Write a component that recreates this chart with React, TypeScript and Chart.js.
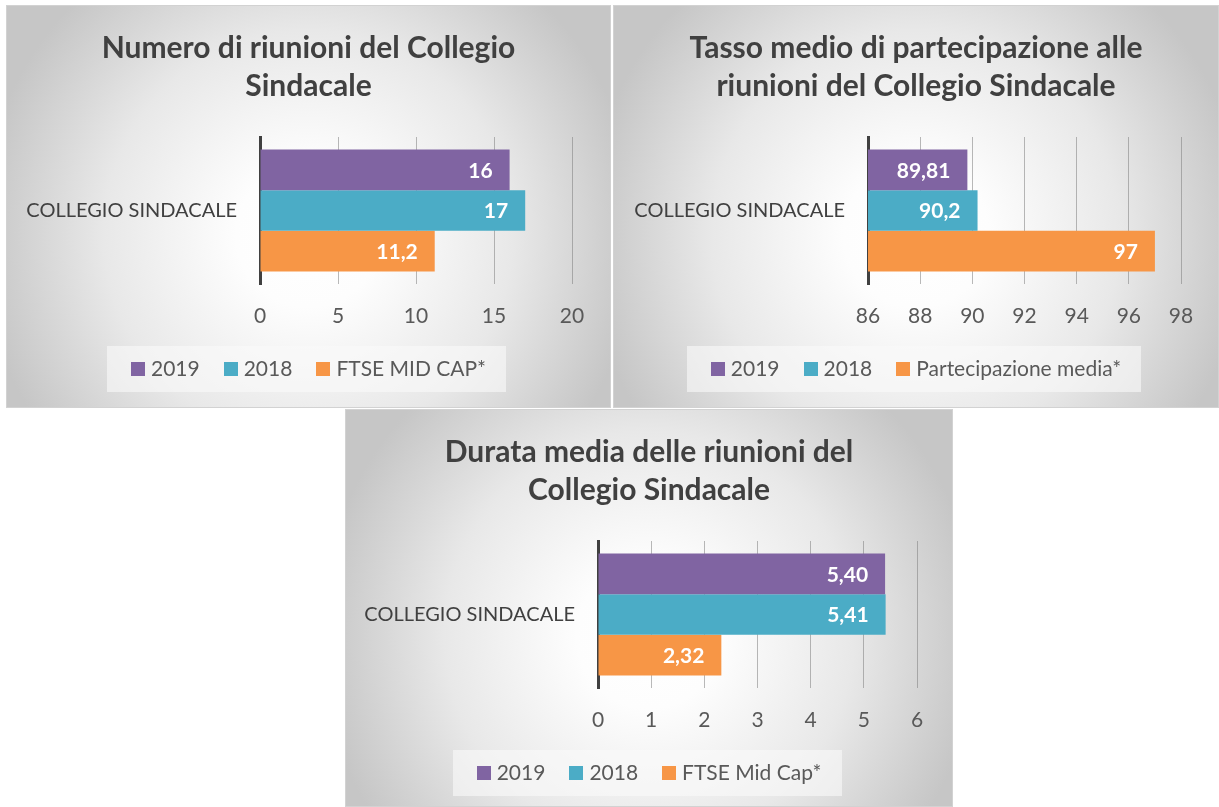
import React, { useEffect, useRef } from "react";
import { Chart, registerables } from "chart.js";

Chart.register(...registerables);
Chart.defaults.font.family = "Lato, 'Open Sans', sans-serif";

// ---------- data ----------
const CATEGORY = ["COLLEGIO SINDACALE"];
const COLORS = ["#8064A2", "#4BACC6", "#F79646"];

const TITLE_MEETINGS = ["Numero di riunioni del Collegio", "Sindacale"];
const SERIES_MEETINGS = ["2019", "2018", "FTSE MID CAP*"];
const VALUES_MEETINGS = [16, 17, 11.2];
const TICKS_MEETINGS = [0, 5, 10, 15, 20];

const TITLE_PARTICIPATION = ["Tasso medio di partecipazione alle", "riunioni del Collegio Sindacale"];
const SERIES_PARTICIPATION = ["2019", "2018", "Partecipazione media*"];
const VALUES_PARTICIPATION = [89.81, 90.2, 97];
const TICKS_PARTICIPATION = [86, 88, 90, 92, 94, 96, 98];

const TITLE_DURATION = ["Durata media delle riunioni del", "Collegio Sindacale"];
const SERIES_DURATION = ["2019", "2018", "FTSE Mid Cap*"];
const VALUES_DURATION = [5.4, 5.41, 2.32];
const TICKS_DURATION = [0, 1, 2, 3, 4, 5, 6];

// ---------- layout ----------
type PanelCfg = {
  left: number;
  top: number;
  width: number;
  height: number;
  axisX: number; // canvas x of value-axis start
  padRight: number;
  title: string[];
  series: string[];
  values: number[];
  ticks: number[];
  decimals: number | null;
};

const PANELS: PanelCfg[] = [
  {
    left: 6, top: 5, width: 605, height: 403, axisX: 254, padRight: 39,
    title: TITLE_MEETINGS, series: SERIES_MEETINGS, values: VALUES_MEETINGS,
    ticks: TICKS_MEETINGS, decimals: null,
  },
  {
    left: 613, top: 5, width: 606, height: 403, axisX: 255, padRight: 38,
    title: TITLE_PARTICIPATION, series: SERIES_PARTICIPATION, values: VALUES_PARTICIPATION,
    ticks: TICKS_PARTICIPATION, decimals: null,
  },
  {
    left: 345, top: 409, width: 608, height: 398, axisX: 253, padRight: 36,
    title: TITLE_DURATION, series: SERIES_DURATION, values: VALUES_DURATION,
    ticks: TICKS_DURATION, decimals: 2,
  },
];

const FONT = "Lato, 'Open Sans', sans-serif";
const CHART_TOP = 132; // canvas y of plot top
const CHART_BOTTOM = 279; // canvas y of plot bottom
const X_AXIS_H = 50;
const LEGEND_Y = 363;
const TITLE_Y = 43;
const TITLE_LINE = 38;

function fmt(v: number, decimals: number | null) {
  const s = decimals === null ? String(v) : v.toFixed(decimals);
  return s.replace(".", ",");
}

function makeConfig(cfg: PanelCfg): any {
  const valueLabels = {
    id: "valueLabels",
    afterDatasetsDraw(chart: any) {
      const ctx = chart.ctx;
      ctx.save();
      ctx.font = `bold 21px ${FONT}`;
      ctx.fillStyle = "#ffffff";
      ctx.textAlign = "right";
      ctx.textBaseline = "middle";
      chart.data.datasets.forEach((ds: any, i: number) => {
        const meta = chart.getDatasetMeta(i);
        meta.data.forEach((bar: any, j: number) => {
          ctx.fillText(fmt(ds.data[j], cfg.decimals), bar.x - 17, bar.y + 1);
        });
      });
      ctx.restore();
    },
  };

  const panelTitle = {
    id: "panelTitle",
    afterDraw(chart: any) {
      const ctx = chart.ctx;
      ctx.save();
      ctx.font = `bold 30px ${FONT}`;
      ctx.fillStyle = "#404040";
      ctx.textAlign = "center";
      ctx.textBaseline = "middle";
      cfg.title.forEach((line, i) => {
        ctx.fillText(line, chart.width / 2, TITLE_Y + i * TITLE_LINE);
      });
      ctx.restore();
    },
  };

  const boxLegend = {
    id: "boxLegend",
    afterDraw(chart: any) {
      const ctx = chart.ctx;
      ctx.save();
      ctx.font = `21px ${FONT}`;
      const sq = 14;
      const gapText = 6;
      const gapItem = 24;
      const names: string[] = chart.data.datasets.map((d: any) => d.label);
      const widths = names.map((n) => ctx.measureText(n).width);
      const total =
        widths.reduce((a, w) => a + sq + gapText + w, 0) + gapItem * (names.length - 1);
      let x = chart.width / 2 - total / 2;
      ctx.fillStyle = "rgba(250,250,250,0.6)";
      ctx.fillRect(Math.round(x - 24), LEGEND_Y - 22, Math.round(total + 44), 46);
      ctx.textBaseline = "middle";
      ctx.textAlign = "left";
      names.forEach((n, i) => {
        ctx.fillStyle = chart.data.datasets[i].backgroundColor;
        ctx.fillRect(Math.round(x), LEGEND_Y - 6, sq, sq);
        ctx.fillStyle = "#595959";
        ctx.fillText(n, x + sq + gapText, LEGEND_Y + 1);
        x += sq + gapText + widths[i] + gapItem;
      });
      ctx.restore();
    },
  };

  const ticks = cfg.ticks;
  return {
    type: "bar",
    data: {
      labels: CATEGORY,
      datasets: cfg.series.map((name, i) => ({
        label: name,
        data: [cfg.values[i]],
        backgroundColor: COLORS[i],
        borderWidth: 0,
        categoryPercentage: 0.83,
        barPercentage: 1,
      })),
    },
    options: {
      indexAxis: "y",
      animation: false,
      responsive: false,
      events: [],
      layout: {
        padding: {
          left: 0,
          right: cfg.padRight,
          top: CHART_TOP,
          bottom: cfg.height - CHART_BOTTOM - X_AXIS_H,
        },
      },
      scales: {
        x: {
          type: "linear",
          min: ticks[0],
          max: ticks[ticks.length - 1],
          afterBuildTicks: (scale: any) => {
            scale.ticks = ticks.map((v) => ({ value: v }));
          },
          ticks: {
            padding: 20,
            color: "#595959",
            font: { size: 21, family: FONT },
            maxRotation: 0,
            callback: (v: any) => String(v),
          },
          grid: { color: "rgba(128,128,128,0.55)", lineWidth: 1, drawTicks: false },
          border: { display: false },
          afterFit: (scale: any) => {
            scale.height = X_AXIS_H;
          },
        },
        y: {
          ticks: {
            padding: 23,
            color: "#404040",
            font: { size: 20, family: FONT },
          },
          grid: { display: false, drawTicks: false },
          border: { display: true, color: "#404040", width: 3 },
          afterFit: (scale: any) => {
            scale.width = cfg.axisX;
          },
        },
      },
      plugins: {
        legend: { display: false },
        tooltip: { enabled: false },
        title: { display: false },
      },
    },
    plugins: [valueLabels, panelTitle, boxLegend],
  };
}

function Panel({ cfg }: { cfg: PanelCfg }) {
  const ref = useRef<HTMLCanvasElement>(null);
  useEffect(() => {
    const chart = new Chart(ref.current as HTMLCanvasElement, makeConfig(cfg));
    return () => chart.destroy();
  }, [cfg]);
  return (
    <div
      style={{
        position: "absolute",
        left: cfg.left,
        top: cfg.top,
        width: cfg.width,
        height: cfg.height,
        background:
          "radial-gradient(circle 330px at 50% 57%, #ffffff 0%, #fdfdfd 22%, #e8e8e8 62%, #c6c6c6 100%)",
        boxShadow: "inset 0 0 0 1px #d2d2d2",
      }}
    >
      <canvas
        ref={ref}
        width={cfg.width}
        height={cfg.height}
        style={{ display: "block", position: "absolute", left: 0, top: 0 }}
      />
    </div>
  );
}

export default function App() {
  return (
    <div>
      {PANELS.map((p, i) => (
        <Panel key={i} cfg={p} />
      ))}
    </div>
  );
}
